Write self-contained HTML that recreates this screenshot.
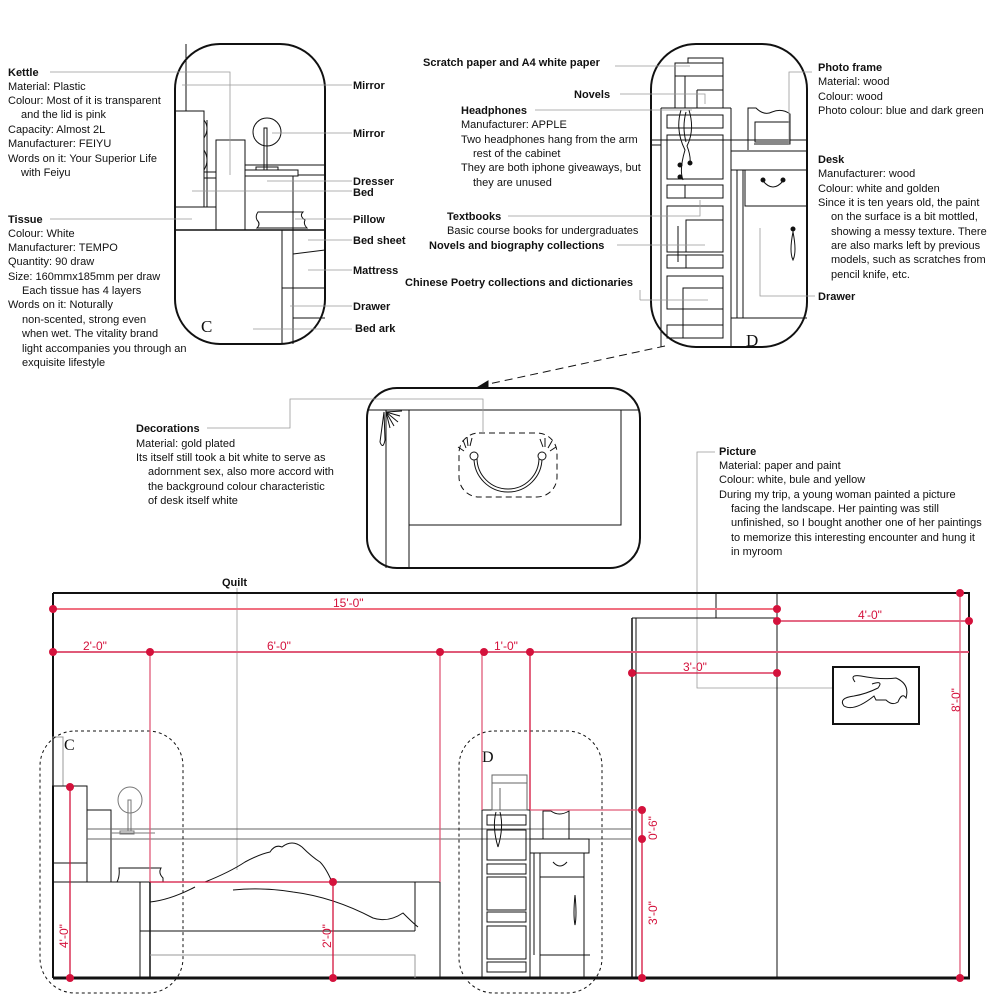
<!DOCTYPE html>
<html><head><meta charset="utf-8"><style>
html,body{margin:0;padding:0;background:#fff;}
svg{display:block;}
text{font-family:"Liberation Sans",sans-serif;font-size:11px;fill:#111;}
.b{font-weight:bold;}
.r{fill:#d4123c;font-size:12px;}
</style></head><body>
<svg width="1000" height="1000" viewBox="0 0 1000 1000" xmlns="http://www.w3.org/2000/svg">
<g fill="none" stroke="#111" stroke-width="1">
<!-- Panel C -->
<rect x="175" y="44" width="150" height="300" rx="45" stroke-width="2"/>
<line x1="186" y1="44" x2="186" y2="111"/>
<rect x="175" y="111" width="29" height="96"/>
<path d="M204 120 q6 8 0 18 M204 150 q6 10 0 20"/>
<line x1="207" y1="120" x2="207" y2="207"/>
<rect x="216" y="140" width="29" height="90"/>
<line x1="204" y1="172" x2="216" y2="172"/><line x1="204" y1="178" x2="216" y2="178"/>
<line x1="175" y1="207" x2="216" y2="207"/>
<circle cx="267" cy="132" r="14"/>
<rect x="264" y="128" width="3" height="42"/>
<rect x="256" y="167" width="22" height="3"/>
<line x1="245" y1="165" x2="325" y2="165"/>
<rect x="245" y="170" width="53" height="6"/>
<line x1="298" y1="175" x2="325" y2="175"/>
<line x1="175" y1="230" x2="325" y2="230" stroke-width="1.5"/>
<line x1="293" y1="176" x2="293" y2="230"/>
<path d="M258 212 h45 q-4 4 2 8 q-2 4 2 8 h-50 q4 -4 0 -8 q-2 -4 1 -8z"/>
<line x1="282" y1="230" x2="282" y2="344"/>
<line x1="293" y1="230" x2="293" y2="344"/>
<line x1="293" y1="254" x2="325" y2="250"/>
<line x1="282" y1="288" x2="325" y2="288"/>
<line x1="293" y1="318" x2="325" y2="318"/>
<!-- Panel D -->
<rect x="651" y="44" width="156" height="303" rx="45" stroke-width="2"/>
<rect x="688" y="58" width="35" height="5"/>
<rect x="675" y="63" width="48" height="45"/>
<line x1="675" y1="76" x2="723" y2="76"/><line x1="685" y1="76" x2="685" y2="108"/>
<line x1="697" y1="90" x2="723" y2="90"/><line x1="697" y1="90" x2="697" y2="108"/>
<line x1="661" y1="108" x2="661" y2="347"/><line x1="731" y1="108" x2="731" y2="347"/>
<line x1="661" y1="108" x2="731" y2="108"/>
<rect x="667" y="115" width="56" height="13"/>
<rect x="667" y="135" width="56" height="44"/>
<rect x="667" y="185" width="56" height="13"/><line x1="685" y1="185" x2="685" y2="198"/>
<rect x="667" y="206" width="56" height="46"/>
<rect x="686" y="220" width="37" height="32"/><line x1="678" y1="226" x2="678" y2="262"/>
<rect x="667" y="255" width="56" height="13"/><line x1="686" y1="255" x2="686" y2="268"/>
<rect x="667" y="276" width="56" height="33"/><rect x="683" y="288" width="40" height="50"/>
<rect x="667" y="325" width="56" height="13"/>
<path d="M681 110 q-6 20 4 40 q-6 20 -2 30 M689 110 q6 20 -2 36 q4 10 3 18 M686 112 q-4 15 0 30"/>
<circle cx="680" cy="165" r="2" fill="#111"/><circle cx="690" cy="163" r="2" fill="#111"/><circle cx="680" cy="177" r="2" fill="#111"/>
<line x1="651" y1="140" x2="807" y2="140"/><line x1="651" y1="145" x2="661" y2="145"/>
<rect x="731" y="151" width="76" height="19"/>
<rect x="745" y="170" width="62" height="36"/>
<line x1="737" y1="170" x2="737" y2="318"/><line x1="743" y1="170" x2="743" y2="318"/>
<line x1="731" y1="318" x2="807" y2="318"/>
<path d="M748 150 v-42 h8 q8 8 16 4 q10 -4 18 2 v30 h-36"/><rect x="755" y="122" width="35" height="20"/>
<path d="M763 181 q10 12 20 0"/><circle cx="763" cy="180" r="2" fill="#111"/><circle cx="783" cy="180" r="2" fill="#111"/>
<path d="M793 230 v2 q-4 20 0 28 q4 -8 0 -28"/><circle cx="793" cy="229" r="2" fill="#111"/>
<!-- Decoration panel -->
<rect x="367" y="388" width="273" height="180" rx="30" stroke-width="2"/>
<line x1="367" y1="410" x2="640" y2="410"/>
<line x1="386" y1="410" x2="386" y2="568"/><line x1="409" y1="410" x2="409" y2="568"/>
<rect x="409" y="410" width="212" height="115"/>
<rect x="459" y="433" width="98" height="64" rx="20" stroke-dasharray="6,4"/>
<path d="M474 458 a34 34 0 0 0 68 0 M477 458 a31 31 0 0 0 62 0"/>
<circle cx="474" cy="456" r="4" fill="#fff"/><circle cx="542" cy="456" r="4" fill="#fff"/>
<path d="M466 448 l-3 -8 M468 446 l-1 -9 M470 446 l2 -8 M464 451 l-6 -4 M545 447 l0 -9 M548 448 l4 -7 M550 451 l6 -4 M543 447 l-3 -8"/>
<path d="M384 412 l-4 30 q3 8 5 -2 z M386 412 l12 10 M386 412 l8 14 M386 412 l4 16 M386 412 l14 4 M386 412 l16 -1"/>
<!-- dashed arrow -->
<line x1="665" y1="346" x2="484" y2="385" stroke-dasharray="8,5"/>
<path d="M478 387 l10 -6 l0 6z" fill="#111"/>
</g>
<!-- Leaders -->
<g fill="none" stroke="#999" stroke-width="0.8">
<polyline points="50,72 230,72 230,175"/>
<line x1="182" y1="85" x2="352" y2="85"/>
<line x1="272" y1="133" x2="352" y2="133"/>
<line x1="267" y1="181" x2="352" y2="181"/>
<line x1="192" y1="191" x2="352" y2="191"/>
<line x1="50" y1="219" x2="192" y2="219"/>
<line x1="295" y1="219" x2="352" y2="219"/>
<line x1="308" y1="240" x2="352" y2="240"/>
<line x1="308" y1="270" x2="352" y2="270"/>
<line x1="290" y1="306" x2="352" y2="306"/>
<line x1="253" y1="329" x2="352" y2="329"/>
<line x1="615" y1="66" x2="690" y2="66"/>
<polyline points="620,94 705,94 705,104"/>
<line x1="535" y1="110" x2="692" y2="110"/>
<polyline points="508,216 700,216 700,200"/>
<line x1="617" y1="245" x2="705" y2="245"/>
<polyline points="640,300 640,290"/><line x1="640" y1="300" x2="708" y2="300"/>
<polyline points="812,72 789,72 789,145"/>
<polyline points="815,296 760,296 760,228"/>
<polyline points="207,428 290,428 290,399 483,399 483,433"/>
<polyline points="715,452 697,452 697,688 833,688"/>
<line x1="237" y1="588" x2="237" y2="870"/>
</g>
<!-- Bottom drawing -->
<g fill="none" stroke="#111" stroke-width="1">
<line x1="53" y1="593" x2="970" y2="593" stroke-width="2"/>
<line x1="53" y1="593" x2="53" y2="978" stroke-width="2"/>
<line x1="969" y1="593" x2="969" y2="978" stroke-width="2"/>
<line x1="53" y1="978" x2="970" y2="978" stroke-width="3"/>
<line x1="716" y1="593" x2="716" y2="618"/>
<line x1="632" y1="618" x2="777" y2="618"/>
<line x1="632" y1="618" x2="632" y2="978" stroke-width="1.5"/><line x1="636" y1="618" x2="636" y2="978"/>
<line x1="777" y1="593" x2="777" y2="978"/>
<rect x="833" y="667" width="86" height="57" stroke-width="2"/>
<path d="M855 682 q-6 -8 6 -6 q20 4 35 2 q14 6 10 20 q-4 -6 -8 4 q-6 4 -12 -2 h-10 l-2 -4 q-20 16 -30 10 q-6 -8 10 -10 q12 -2 24 -8 q6 -8 -6 -4"/>
<rect x="53" y="737" width="10" height="49" stroke="#999"/>
<rect x="53" y="786" width="34" height="96"/>
<line x1="53" y1="863" x2="87" y2="863"/>
<rect x="87" y="810" width="24" height="72"/>
<ellipse cx="130" cy="800" rx="12" ry="13" stroke="#777"/>
<rect x="128" y="800" width="3" height="31" stroke="#777"/>
<rect x="120" y="831" width="14" height="3" stroke="#777"/>
<line x1="111" y1="833" x2="155" y2="833" stroke="#777"/>
<line x1="87" y1="829" x2="632" y2="829" stroke="#666"/>
<line x1="87" y1="839" x2="632" y2="839" stroke="#666"/>
<path d="M119 868 h42 q-3 5 2 10 v4 h-46 q3 -6 2 -14z"/>
<line x1="53" y1="882" x2="440" y2="882"/>
<line x1="140" y1="882" x2="140" y2="978"/><line x1="150" y1="882" x2="150" y2="978" stroke-width="1.5"/>
<line x1="140" y1="931" x2="415" y2="931"/>
<line x1="415" y1="882" x2="415" y2="931"/>
<polyline points="150,955 415,955 415,978" stroke="#999"/>
<line x1="440" y1="882" x2="440" y2="978"/>
<path d="M205 882 q25 -10 40 -20 q15 -8 25 -10 q5 -8 12 -5 q10 -8 20 0 q10 10 18 15 q6 6 12 20"/>
<path d="M150 902 q20 -2 45 -15 M233 890 q30 -3 60 2 q40 5 80 26 q15 5 30 -5 q10 10 15 14"/>
<!-- D area -->
<line x1="482" y1="810" x2="482" y2="978"/><line x1="530" y1="810" x2="530" y2="978"/>
<line x1="482" y1="810" x2="530" y2="810"/>
<rect x="492" y="775" width="35" height="35" stroke="#666"/>
<line x1="492" y1="783" x2="527" y2="783" stroke="#666"/><line x1="500" y1="788" x2="500" y2="810" stroke="#666"/>
<rect x="487" y="815" width="39" height="10"/><rect x="487" y="830" width="39" height="30"/>
<rect x="487" y="864" width="39" height="10"/><rect x="487" y="877" width="39" height="33"/>
<rect x="487" y="912" width="39" height="10"/><rect x="487" y="926" width="39" height="33"/>
<rect x="487" y="962" width="39" height="10"/>
<path d="M496 812 q-4 15 2 35 M500 812 q4 15 -2 35"/>
<rect x="530" y="839" width="59" height="14"/>
<rect x="540" y="853" width="44" height="24"/>
<line x1="540" y1="877" x2="540" y2="978"/><line x1="584" y1="877" x2="584" y2="978"/>
<line x1="534" y1="853" x2="534" y2="955"/>
<line x1="540" y1="955" x2="590" y2="955"/>
<path d="M543 839 v-28 h8 q8 6 18 0 v28"/>
<path d="M553 862 q7 8 14 0"/>
<path d="M575 895 q-2 20 0 30 q2 -10 0 -30"/>
</g>
<!-- dashed C/D outlines -->
<rect x="40" y="731" width="143" height="262" rx="35" fill="none" stroke="#111" stroke-dasharray="3,3"/>
<rect x="459" y="731" width="143" height="262" rx="35" fill="none" stroke="#111" stroke-dasharray="3,3"/>
<!-- red dimension lines -->
<g stroke="#e05a78" stroke-width="2" fill="none">
<line x1="53" y1="609" x2="777" y2="609" stroke="#f07080"/>
<line x1="53" y1="652" x2="969" y2="652"/>
</g>
<g stroke="#d4123c" stroke-width="1.3" fill="none">
<line x1="777" y1="621" x2="969" y2="621"/>
<line x1="632" y1="673" x2="777" y2="673"/>
<line x1="960" y1="593" x2="960" y2="978" stroke="#e05a78"/>
<line x1="150" y1="652" x2="150" y2="882" stroke="#e05a78"/>
<line x1="440" y1="652" x2="440" y2="882" stroke="#e05a78"/>
<line x1="482" y1="652" x2="482" y2="810" stroke="#e05a78"/>
<line x1="530" y1="652" x2="530" y2="810"/>
<line x1="530" y1="810" x2="642" y2="810" stroke="#e05a78"/>
<line x1="642" y1="810" x2="642" y2="978"/>
<line x1="150" y1="882" x2="333" y2="882"/>
<line x1="333" y1="882" x2="333" y2="978"/>
<line x1="70" y1="787" x2="70" y2="978"/>
</g>
<g fill="#d4123c">
<circle cx="53" cy="609" r="4"/><circle cx="777" cy="609" r="4"/>
<circle cx="777" cy="621" r="4"/><circle cx="969" cy="621" r="4"/>
<circle cx="53" cy="652" r="4"/><circle cx="150" cy="652" r="4"/><circle cx="440" cy="652" r="4"/><circle cx="484" cy="652" r="4"/><circle cx="530" cy="652" r="4"/>
<circle cx="632" cy="673" r="4"/><circle cx="777" cy="673" r="4"/>
<circle cx="960" cy="593" r="4"/><circle cx="960" cy="978" r="4"/>
<circle cx="642" cy="810" r="4"/><circle cx="642" cy="839" r="4"/><circle cx="642" cy="978" r="4"/>
<circle cx="333" cy="882" r="4"/><circle cx="333" cy="978" r="4"/>
<circle cx="70" cy="787" r="4"/><circle cx="70" cy="978" r="4"/>
</g>
<g>
<text class="r" x="333" y="607">15'-0"</text>
<text class="r" x="858" y="619">4'-0"</text>
<text class="r" x="83" y="650">2'-0"</text>
<text class="r" x="267" y="650">6'-0"</text>
<text class="r" x="494" y="650">1'-0"</text>
<text class="r" x="683" y="671">3'-0"</text>
<text class="r" transform="translate(960,712) rotate(-90)">8'-0"</text>
<text class="r" transform="translate(657,840) rotate(-90)">0'-6"</text>
<text class="r" transform="translate(657,925) rotate(-90)">3'-0"</text>
<text class="r" transform="translate(68,948) rotate(-90)">4'-0"</text>
<text class="r" transform="translate(331,948) rotate(-90)">2'-0"</text>
</g>
<text x="64" y="750" style="font-family:'Liberation Serif',serif;font-size:16px">C</text>
<text x="482" y="762" style="font-family:'Liberation Serif',serif;font-size:16px">D</text>
<text x="201" y="332" style="font-family:'Liberation Serif',serif;font-size:17px">C</text>
<text x="746" y="346" style="font-family:'Liberation Serif',serif;font-size:17px">D</text>
<!-- Text C -->
<text class="b" x="8" y="76">Kettle</text>
<text x="8" y="90">Material: Plastic</text>
<text x="8" y="104">Colour: Most of it is transparent</text>
<text x="21" y="118">and the lid is pink</text>
<text x="8" y="133">Capacity: Almost 2L</text>
<text x="8" y="147">Manufacturer: FEIYU</text>
<text x="8" y="162">Words on it: Your Superior Life</text>
<text x="21" y="176">with Feiyu</text>
<text class="b" x="8" y="223">Tissue</text>
<text x="8" y="237">Colour: White</text>
<text x="8" y="251">Manufacturer: TEMPO</text>
<text x="8" y="265">Quantity: 90 draw</text>
<text x="8" y="280">Size: 160mmx185mm per draw</text>
<text x="22" y="294">Each tissue has 4 layers</text>
<text x="8" y="308">Words on it: Noturally</text>
<text x="22" y="323">non-scented, strong even</text>
<text x="22" y="337">when wet. The vitality brand</text>
<text x="22" y="352">light accompanies you through an</text>
<text x="22" y="366">exquisite lifestyle</text>
<text class="b" x="353" y="89">Mirror</text>
<text class="b" x="353" y="137">Mirror</text>
<text class="b" x="353" y="185">Dresser</text>
<text class="b" x="353" y="196">Bed</text>
<text class="b" x="353" y="223">Pillow</text>
<text class="b" x="353" y="244">Bed sheet</text>
<text class="b" x="353" y="274">Mattress</text>
<text class="b" x="353" y="310">Drawer</text>
<text class="b" x="355" y="332">Bed ark</text>
<!-- Text D -->
<text class="b" x="423" y="66">Scratch paper and A4 white paper</text>
<text class="b" x="574" y="98">Novels</text>
<text class="b" x="461" y="114">Headphones</text>
<text x="461" y="128">Manufacturer: APPLE</text>
<text x="461" y="143">Two headphones hang from the arm</text>
<text x="473" y="157">rest of the cabinet</text>
<text x="461" y="171">They are both iphone giveaways, but</text>
<text x="473" y="186">they are unused</text>
<text class="b" x="447" y="220">Textbooks</text>
<text x="447" y="234">Basic course books for undergraduates</text>
<text class="b" x="429" y="249">Novels and biography collections</text>
<text class="b" x="405" y="286">Chinese Poetry collections and dictionaries</text>
<text class="b" x="818" y="71">Photo frame</text>
<text x="818" y="85">Material: wood</text>
<text x="818" y="100">Colour: wood</text>
<text x="818" y="114">Photo colour: blue and dark green</text>
<text class="b" x="818" y="163">Desk</text>
<text x="818" y="177">Manufacturer: wood</text>
<text x="818" y="192">Colour: white and golden</text>
<text x="818" y="206">Since it is ten years old, the paint</text>
<text x="831" y="220">on the surface is a bit mottled,</text>
<text x="831" y="235">showing a messy texture. There</text>
<text x="831" y="249">are also marks left by previous</text>
<text x="831" y="263">models, such as scratches from</text>
<text x="831" y="278">pencil knife, etc.</text>
<text class="b" x="818" y="300">Drawer</text>
<!-- Decorations -->
<text class="b" x="136" y="432">Decorations</text>
<text x="136" y="447">Material: gold plated</text>
<text x="136" y="461">Its itself still took a bit white to serve as</text>
<text x="148" y="475">adornment sex, also more accord with</text>
<text x="148" y="490">the background colour characteristic</text>
<text x="148" y="504">of desk itself white</text>
<text class="b" x="719" y="455">Picture</text>
<text x="719" y="469">Material: paper and paint</text>
<text x="719" y="483">Colour: white, bule and yellow</text>
<text x="719" y="498">During my trip, a young woman painted a picture</text>
<text x="731" y="512">facing the landscape. Her painting was still</text>
<text x="731" y="526">unfinished, so I bought another one of her paintings</text>
<text x="731" y="541">to memorize this interesting encounter and hung it</text>
<text x="731" y="555">in myroom</text>
<text class="b" x="222" y="586">Quilt</text>
</svg>
</body></html>
